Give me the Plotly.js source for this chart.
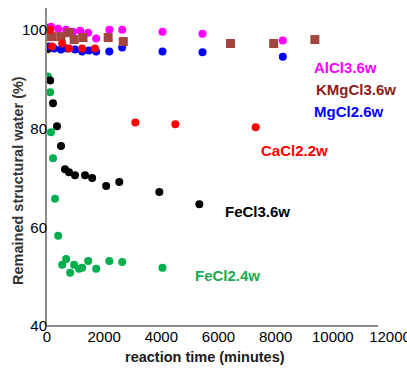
<!DOCTYPE html>
<html>
<head>
<meta charset="utf-8">
<script src="https://cdn.plot.ly/plotly-3.0.1.min.js"></script>
<style>html,body{margin:0;padding:0;background:#fff;}#chart{width:407px;height:371px;}</style>
</head>
<body>
<div id="chart"></div>
<script>
// ---- data (reaction time in minutes, remained structural water in %) ----
const fecl2X = [0, 30, 110, 140, 210, 280, 390, 530, 670, 810, 950, 1120, 1230, 1440, 1720, 2180, 2630, 4040];
const fecl2Y = [96.3, 90.6, 87.4, 79.3, 74.0, 65.8, 58.3, 52.4, 53.6, 50.8, 52.4, 51.6, 51.8, 53.2, 51.6, 53.2, 53.0, 51.8];

const fecl3X = [0, 30, 110, 210, 350, 490, 630, 770, 980, 1330, 1580, 2070, 2530, 3930, 5330];
const fecl3Y = [100.5, 96.2, 89.8, 85.2, 80.5, 76.5, 71.8, 71.2, 70.6, 70.6, 70.0, 68.4, 69.2, 67.2, 64.7];

const mgcl2X = [70, 250, 490, 700, 980, 1230, 1470, 1720, 2180, 2630, 4040, 5440, 8250];
const mgcl2Y = [96.7, 96.3, 96.1, 96.3, 96.1, 95.7, 95.9, 95.7, 95.7, 96.5, 95.7, 95.5, 94.6];

const alcl3X = [140, 390, 670, 910, 1160, 1440, 1720, 2180, 2630, 4040, 5440, 8250];
const alcl3Y = [100.7, 100.3, 100.1, 99.7, 99.9, 99.5, 98.3, 100.1, 100.1, 99.7, 99.3, 97.9];

const kmgcl3X = [0, 180, 490, 770, 950, 1260, 2140, 2670, 6420, 7930, 9370];
const kmgcl3Y = [98.7, 98.7, 98.7, 99.5, 98.1, 98.5, 98.5, 97.7, 97.3, 97.3, 98.1];

const cacl2X = [110, 180, 530, 770, 1230, 1680, 3090, 4490, 7300];
const cacl2Y = [100.1, 96.7, 97.3, 96.3, 96.3, 96.3, 81.3, 80.9, 80.3];

const seriesNames = ["FeCl2.4w", "FeCl3.6w", "MgCl2.6w", "AlCl3.6w", "KMgCl3.6w", "CaCl2.2w"];
const xTicks = [0, 2000, 4000, 6000, 8000, 10000, 12000];
const yTicks = [40, 60, 80, 100];

const colors = {
  "FeCl2.4w": "#00b050",
  "FeCl3.6w": "#000000",
  "MgCl2.6w": "#0000ff",
  "AlCl3.6w": "#ff00ff",
  "KMgCl3.6w": "#a5453f",
  "CaCl2.2w": "#ff0000"
};
const labelColors = {
  "FeCl2.4w": "#1aab50",
  "FeCl3.6w": "#000000",
  "MgCl2.6w": "#0000ff",
  "AlCl3.6w": "#ff00ff",
  "KMgCl3.6w": "#8b1c1c",
  "CaCl2.2w": "#ff0000"
};

const xs = [fecl2X, fecl3X, mgcl2X, alcl3X, kmgcl3X, cacl2X];
const ys = [fecl2Y, fecl3Y, mgcl2Y, alcl3Y, kmgcl3Y, cacl2Y];

const traces = seriesNames.map((n, i) => ({
  type: "scatter",
  mode: "markers",
  name: n,
  x: xs[i],
  y: ys[i],
  marker: {
    color: colors[n],
    size: n === "KMgCl3.6w" ? 9 : 8,
    symbol: n === "KMgCl3.6w" ? "square" : "circle",
    line: {width: 0}
  },
  hoverinfo: "skip"
}));

// label placement (data coords)
const labelPos = {
  "AlCl3.6w": [10460, 92.4],
  "KMgCl3.6w": [10800, 88.0],
  "MgCl2.6w": [10560, 83.5],
  "CaCl2.2w": [8670, 75.5],
  "FeCl3.6w": [7370, 63.3],
  "FeCl2.4w": [6320, 50.2]
};

const annotations = seriesNames.map(n => ({
  x: labelPos[n][0], y: labelPos[n][1], xref: "x", yref: "y",
  text: "<b>" + n + "</b>", showarrow: false,
  font: {family: "Liberation Sans, Arial, sans-serif", size: 15, color: labelColors[n]},
  xanchor: "center", yanchor: "middle"
}));

const L = 47, R = 390, T = 8, B = 326;
function px2paperX(px) { return (px - L) / (R - L); }
function py2paperY(py) { return (B - py) / (B - T); }

annotations.push({
  x: px2paperX(205), y: py2paperY(357), xref: "paper", yref: "paper", text: "<b>reaction time (minutes)</b>",
  showarrow: false, font: {family: "Liberation Sans, Arial, sans-serif", size: 14.5, color: "#1a1a1a"},
  xanchor: "center", yanchor: "middle"
});

annotations.push({
  x: px2paperX(18), y: py2paperY(181), xref: "paper", yref: "paper",
  text: "<b>Remained structural water (%)</b>", textangle: -90,
  showarrow: false, font: {family: "Liberation Sans, Arial, sans-serif", size: 14.5, color: "#333333"},
  xanchor: "center", yanchor: "middle"
});

const layout = {
  width: 407, height: 371,
  margin: {l: L, r: 407 - R, t: T, b: 371 - B},
  paper_bgcolor: "#ffffff", plot_bgcolor: "#ffffff",
  showlegend: false,
  font: {family: "Liberation Sans, Arial, sans-serif", size: 15, color: "#000"},
  xaxis: {
    range: [0, 12000], tickvals: xTicks, ticktext: xTicks.map(String),
    showgrid: false, zeroline: false, showline: false, ticks: "",
    tickfont: {size: 15, color: "#000"}, ticklabelstandoff: 0,
    ticklabeloverflow: "allow"
  },
  yaxis: {
    range: [40, 104.5], tickvals: yTicks, ticktext: yTicks.map(String),
    showgrid: false, zeroline: false, showline: true, linecolor: "#8c8c8c", linewidth: 2,
    ticks: "", tickfont: {size: 15, color: "#000"}, ticklabelstandoff: -5,
    ticklabeloverflow: "allow"
  },
  shapes: [{
    type: "line", xref: "paper", yref: "paper",
    x0: 0, x1: px2paperX(378), y0: 0, y1: 0,
    line: {color: "#8c8c8c", width: 2}
  }],
  annotations: annotations
};

Plotly.newPlot("chart", traces, layout, {staticPlot: true, displayModeBar: false});
</script>
</body>
</html>
